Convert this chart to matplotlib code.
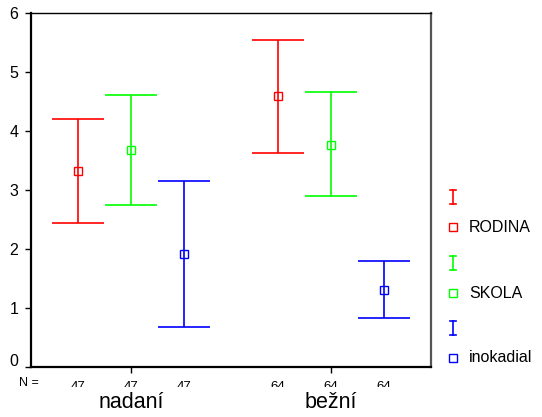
import matplotlib
matplotlib.use("Agg")
import matplotlib.pyplot as plt
import matplotlib.transforms as mtransforms
import numpy as np

plt.rcParams['font.family'] = ['Liberation Sans', 'DejaVu Sans']

groups = ["nadaní", "bežní"]
series = ["RODINA", "SKOLA", "inokadial"]
colors = ["#ff0000", "#00ff00", "#0000ff"]
means = {
    "RODINA":    [3.33, 4.59],
    "SKOLA":     [3.68, 3.76],
    "inokadial": [1.91, 1.31],
}
lower = {
    "RODINA":    [2.44, 3.63],
    "SKOLA":     [2.74, 2.90],
    "inokadial": [0.67, 0.83],
}
upper = {
    "RODINA":    [4.20, 5.55],
    "SKOLA":     [4.61, 4.66],
    "inokadial": [3.16, 1.80],
}
counts = [47, 64]
yticks = [0, 1, 2, 3, 4, 5, 6]

W, H = 542, 417
fig = plt.figure(figsize=(W / 100, H / 100), dpi=100)
ax = fig.add_axes([31 / W, 1 - 367 / H, 400 / W, 354 / H])

offsets = [-0.265, 0.0, 0.265]
gx = np.arange(1, len(groups) + 1)
for s, c, off in zip(series, colors, offsets):
    m = np.array(means[s])
    lo = m - np.array(lower[s])
    hi = np.array(upper[s]) - m
    ax.errorbar(gx + off, m, yerr=[lo, hi], fmt='none', ecolor=c,
                elinewidth=1.2, capsize=18.7, capthick=1.2)
    ax.plot(gx + off, m, linestyle='none', marker='s', markersize=6,
            markerfacecolor='none', markeredgecolor=c, markeredgewidth=1.0)

ax.set_xlim(0.5, 2.5)
ax.set_ylim(0, 6)
ax.set_yticks(yticks)
ax.set_yticklabels([str(t) for t in yticks], fontsize=11.5)
ax.set_xticks(gx)
ax.set_xticklabels([])
ax.tick_params(axis='y', length=4, width=1, pad=5)
ax.tick_params(axis='x', length=4, width=1)
# SPSS nudges the "0" label up a little
lbl0 = ax.get_yticklabels()[0]
lbl0.set_transform(lbl0.get_transform() +
                   mtransforms.ScaledTranslation(0, 7 / 100, fig.dpi_scale_trans))
for sp in ['left', 'bottom']:
    ax.spines[sp].set_linewidth(1.6)
    ax.spines[sp].set_color('black')
ax.spines['top'].set_linewidth(1.0)
ax.spines['top'].set_color('black')
ax.spines['right'].set_linewidth(1.6)
ax.spines['right'].set_color('#555555')

# N = row
trans = mtransforms.blended_transform_factory(ax.transData, fig.transFigure)
fig.text(19 / W, 1 - 383.5 / H, "N =", fontsize=9, va='center', ha='left')
clipbox = mtransforms.Bbox.from_extents(0, H - 387, W, H - 372)
for gi, n in enumerate(counts):
    for off in offsets:
        t = ax.text(gx[gi] + off, 1 - 386.5 / H, str(n), transform=trans,
                    fontsize=9.5, ha='center', va='center', clip_on=True)
        t.set_clip_box(clipbox)
for gi, g in enumerate(groups):
    ax.text(gx[gi], 1 - 402 / H, g, transform=trans, fontsize=15.5,
            ha='center', va='center')

# legend
lax = fig.add_axes([0, 0, 1, 1])
lax.set_xlim(0, W)
lax.set_ylim(H, 0)
lax.axis('off')
lax.patch.set_alpha(0)
leg_y = [197, 263, 328]
for s, c, y in zip(series, colors, leg_y):
    lax.plot([453, 453], [y - 7, y + 7], color=c, lw=1.2)
    lax.plot([450, 456], [y - 7, y - 7], color=c, lw=1.2)
    lax.plot([450, 456], [y + 7, y + 7], color=c, lw=1.2)
    lax.plot([453], [y + 30], linestyle='none', marker='s', markersize=6,
             markerfacecolor='none', markeredgecolor=c, markeredgewidth=1.0)
    lax.text(469, y + 30, s, fontsize=11.5, va='center', ha='left')

fig.savefig("out.png", dpi=100)
